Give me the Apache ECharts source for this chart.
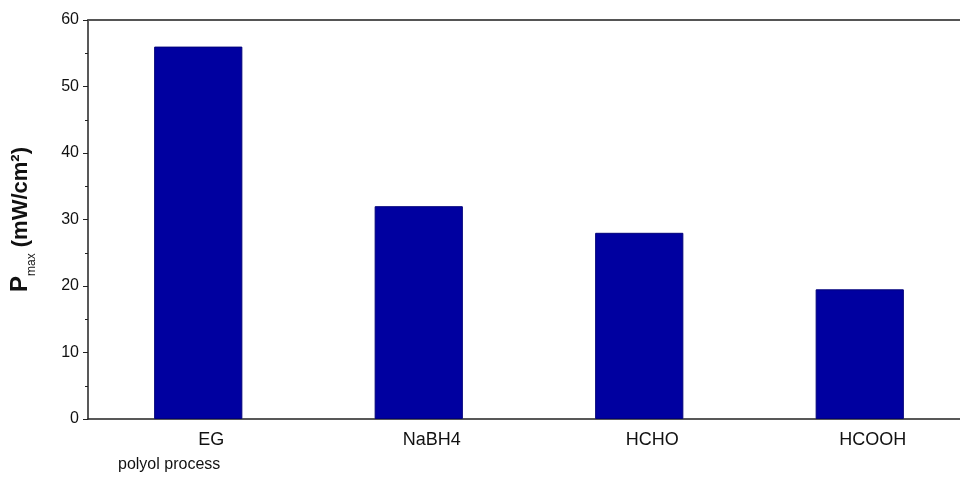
<!DOCTYPE html>
<html>
<head>
<meta charset="utf-8">
<script src="https://cdn.jsdelivr.net/npm/echarts@6/dist/echarts.min.js"></script>
<style>html,body{margin:0;padding:0;background:#fff}#c{width:960px;height:479px}</style>
</head>
<body>
<div id="c"></div>
<script>
var categories = ['EG', 'NaBH4', 'HCHO', 'HCOOH'];
var pmaxValues = [56, 32, 28, 19.5];
var yTicks = [0, 10, 20, 30, 40, 50, 60];
var subLabel = 'polyol process';

var chart = echarts.init(document.getElementById('c'), null, {renderer: 'canvas'});
var font = '"Liberation Sans Narrow", "Liberation Sans", Arial, sans-serif';
chart.setOption({
  animation: false,
  backgroundColor: '#fff',
  grid: {left: 88, width: 882, top: 20, bottom: 60, containLabel: false, outerBoundsMode: 'none'},
  xAxis: [{
    type: 'category',
    data: categories,
    boundaryGap: true,
    axisLine: {lineStyle: {color: '#222', width: 1.5}},
    axisTick: {alignWithLabel: true, length: 6, inside: false, lineStyle: {color: '#222'}},
    axisLabel: {
      margin: 12,
      formatter: function (v) { return '{a|' + v + '}'; },
      rich: {a: {fontFamily: font, fontSize: 18, color: '#111', padding: [0, 0, 0, 26]}}
    }
  }, {
    type: 'category',
    position: 'top',
    data: categories,
    axisLine: {show: true, lineStyle: {color: '#555', width: 2}},
    axisTick: {show: false},
    axisLabel: {show: false}
  }],
  yAxis: {
    type: 'value',
    min: yTicks[0],
    max: yTicks[yTicks.length - 1],
    interval: 10,
    splitLine: {show: false},
    axisLine: {show: true, lineStyle: {color: '#222', width: 1.5}},
    axisTick: {show: true, length: 5, lineStyle: {color: '#222'}},
    minorTick: {show: true, splitNumber: 2, length: 3, lineStyle: {color: '#222'}},
    axisLabel: {fontFamily: font, fontSize: 16, color: '#111', margin: 9},
    name: '{p|P}{s|max}{u| (mW/cm²)}',
    nameLocation: 'middle',
    nameGap: 56,
    nameRotate: 90,
    nameTextStyle: {
      rich: {
        p: {fontFamily: 'Liberation Sans, Arial, sans-serif', fontWeight: 'bold', fontSize: 24, color: '#111', lineHeight: 28, verticalAlign: 'bottom'},
        s: {fontFamily: 'Liberation Sans, Arial, sans-serif', fontSize: 12, color: '#111', lineHeight: 28, verticalAlign: 'bottom', padding: [0, 0, -6, 0]},
        u: {fontFamily: 'Liberation Sans, Arial, sans-serif', fontWeight: 'bold', fontSize: 22, color: '#111', lineHeight: 28, verticalAlign: 'bottom'}
      }
    }
  },
  series: [{
    type: 'bar',
    data: pmaxValues,
    barWidth: '40%',
    itemStyle: {color: '#0000a0', borderColor: '#00007a', borderWidth: 1}
  }],
  graphic: [{
    type: 'text',
    left: 118,
    top: 457,
    style: {text: subLabel, fontFamily: font, fontSize: 16, fill: '#111'}
  }]
});
</script>
</body>
</html>
